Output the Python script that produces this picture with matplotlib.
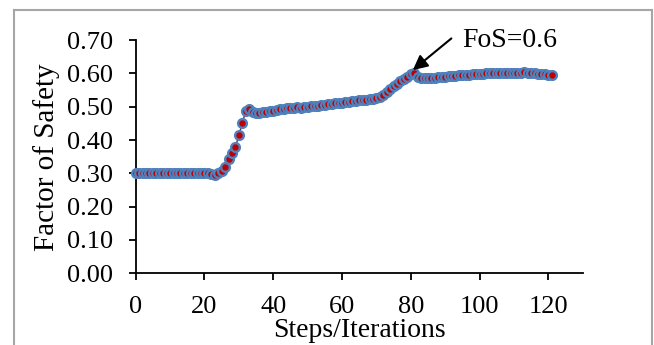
import matplotlib
matplotlib.use("Agg")
import matplotlib.pyplot as plt
from matplotlib.lines import Line2D

plt.rcParams['font.family'] = ['Liberation Serif', 'DejaVu Serif']

# Factor of safety at each step/iteration
steps = list(range(122))
fos = [
    0.300, 0.300, 0.300, 0.300, 0.300, 0.300, 0.300, 0.300, 0.300, 0.300,
    0.300, 0.300, 0.300, 0.300, 0.300, 0.300, 0.300, 0.300, 0.300, 0.300,
    0.300, 0.300, 0.297, 0.295, 0.302, 0.308, 0.320, 0.342, 0.360, 0.378,
    0.415, 0.450, 0.488, 0.492, 0.485, 0.481, 0.482, 0.483, 0.485, 0.487,
    0.488, 0.490, 0.492, 0.494, 0.495, 0.496, 0.497, 0.498, 0.497, 0.498,
    0.500, 0.501, 0.502, 0.503, 0.504, 0.505, 0.507, 0.508, 0.510, 0.511,
    0.512, 0.513, 0.515, 0.516, 0.517, 0.519, 0.520, 0.521, 0.523, 0.524,
    0.526, 0.530, 0.536, 0.545, 0.553, 0.561, 0.568, 0.576, 0.583, 0.590,
    0.597, 0.600, 0.588, 0.586, 0.585, 0.585, 0.586, 0.587, 0.588, 0.589,
    0.590, 0.591, 0.592, 0.593, 0.594, 0.594, 0.595, 0.596, 0.597, 0.597,
    0.598, 0.599, 0.600, 0.601, 0.602, 0.601, 0.600, 0.600, 0.600, 0.601,
    0.601, 0.602, 0.602, 0.603, 0.602, 0.601, 0.600, 0.599, 0.598, 0.597,
    0.596, 0.595,
]
x_ticks = [0, 20, 40, 60, 80, 100, 120]
y_ticks = [0.0, 0.1, 0.2, 0.3, 0.4, 0.5, 0.6, 0.7]
note = "FoS=0.6"
note_point = (80.6, 0.61)
note_tail = (91.8, 0.705)
note_text = (95, 0.70)

fig = plt.figure(figsize=(6.54, 3.45), dpi=100)
ax = fig.add_axes([0.2075, 0.2078, 0.6835, 0.676])

ax.plot(steps, fos, color='#C00000', lw=1, marker='o', markersize=6.3,
        markerfacecolor='#C00000', markeredgecolor='#4F81BD', markeredgewidth=1.7,
        clip_on=False, zorder=3)

ax.set_xlim(0, 130)
ax.set_ylim(0, 0.7)
ax.set_xticks(x_ticks)
ax.set_yticks(y_ticks)
ax.set_yticklabels(["{:.2f}".format(v) for v in y_ticks])
ax.tick_params(labelsize=19, direction='out', length=5, width=1.3, colors='black')
ax.tick_params(axis='y', pad=11)
ax.tick_params(axis='x', pad=11)

for side in ['top', 'right']:
    ax.spines[side].set_visible(False)
for side in ['left', 'bottom']:
    ax.spines[side].set_linewidth(1.3)
    ax.spines[side].set_color('black')

ax.set_xlabel("Steps/Iterations", fontsize=20, labelpad=0)
ax.set_ylabel("Factor of Safety", fontsize=21, labelpad=5)

ax.text(note_text[0], note_text[1], note, fontsize=20, ha='left', va='center')
ax.annotate("", xy=note_point, xytext=note_tail, annotation_clip=False,
            arrowprops=dict(arrowstyle='-|>', color='black', lw=1.5,
                            mutation_scale=22, shrinkA=0, shrinkB=0))

# light grey frame around the chart area
frame_kw = dict(color='#A6A6A6', lw=1.5, transform=fig.transFigure)
fig.add_artist(Line2D([14 / 654, 14 / 654], [0, 1 - 10 / 345], **frame_kw))
fig.add_artist(Line2D([14 / 654, 652 / 654], [1 - 10 / 345, 1 - 10 / 345], **frame_kw))
fig.add_artist(Line2D([652 / 654, 652 / 654], [0, 1 - 10 / 345], **frame_kw))

fig.savefig("out.png", dpi=100)
